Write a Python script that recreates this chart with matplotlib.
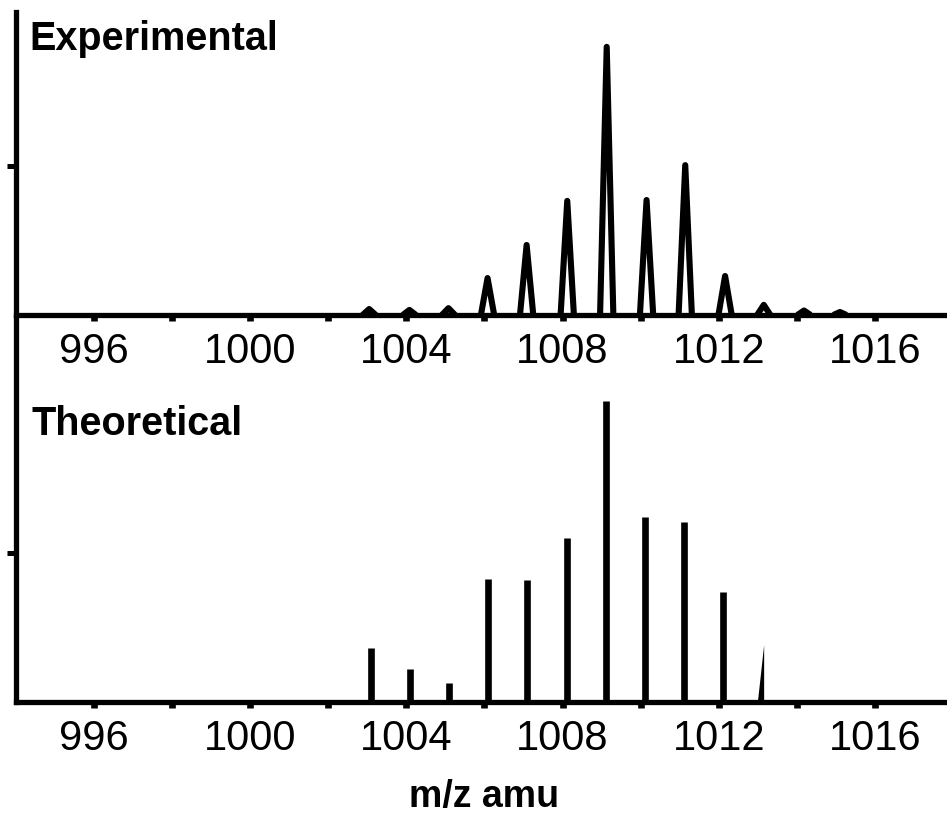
import matplotlib
matplotlib.use("Agg")
import matplotlib.pyplot as plt
import numpy as np

plt.rcParams['font.family'] = ['Liberation Sans', 'DejaVu Sans']

# ---- data ----
exp_mz = [1003.05, 1004.08, 1005.08, 1006.08, 1007.08, 1008.12, 1009.13, 1010.15, 1011.14, 1012.16, 1013.15, 1014.18, 1015.1]
exp_int = [2.0, 1.7, 2.3, 12.4, 23.5, 38.3, 90.0, 38.6, 50.3, 13.1, 3.4, 1.5, 1.0]

theo_mz = [1003.1, 1004.1, 1005.1, 1006.1, 1007.1, 1008.12, 1009.1, 1010.1, 1011.1, 1012.1, 1013.1]
theo_int = [18.0, 11.0, 6.3, 41.3, 40.9, 54.9, 101.0, 62.2, 60.5, 37.0, 19.1]

major_ticks = [996, 1000, 1004, 1008, 1012, 1016]
minor_ticks = [998, 1002, 1006, 1010, 1014]
panel_titles = ["Experimental", "Theoretical"]
xlabel = "m/z amu"

W, H = 947, 816
fig = plt.figure(figsize=(W / 100, H / 100), dpi=100)


def rect(x0, y0, x1, y1):
    return [x0 / W, 1 - y1 / H, (x1 - x0) / W, (y1 - y0) / H]


ax1 = fig.add_axes(rect(15.6, 12, 947, 315))
ax2 = fig.add_axes(rect(15.6, 318, 947, 702))
ax2.patch.set_alpha(0)

for ax, top in ((ax1, 101.7), (ax2, 128.9)):
    ax.set_xlim(994, 1017.84)
    ax.set_ylim(0, top)
    for s in ("top", "right"):
        ax.spines[s].set_visible(False)
    for s in ("left", "bottom"):
        ax.spines[s].set_linewidth(3.8)
    ax.set_xticks(major_ticks)
    ax.set_xticks(minor_ticks, minor=True)
    ax.set_xticklabels([str(t) for t in major_ticks])
    ax.set_yticks([50])
    ax.set_yticklabels([])
    ax.tick_params(axis="x", which="both", direction="out", length=4, width=4.8,
                   labelsize=30, pad=8)
    ax.tick_params(axis="y", direction="out", length=6.5, width=3.6)

# experimental profile peaks (narrow outlined triangles)
hw = 0.17
for c, h in zip(exp_mz, exp_int):
    ax1.plot([c - hw, c, c + hw], [0, h, 0], color="k", lw=4.4,
             solid_joinstyle="round", solid_capstyle="butt")

# theoretical sticks
ax2.vlines(theo_mz[:-1], 0, theo_int[:-1], color="k", lw=4.8)
c, h = theo_mz[-1], theo_int[-1]
ax2.fill([c - 0.1, c + 0.06, c + 0.06], [0, h, 0], color="k", lw=0)

fig.text(29 / W, 1 - 50 / H, panel_titles[0], fontsize=28.5, fontweight="bold",
         ha="left", va="baseline")
fig.text(32 / W, 1 - 435 / H, panel_titles[1], fontsize=28.5, fontweight="bold",
         ha="left", va="baseline")
fig.text(484 / W, 1 - 815 / H, xlabel, fontsize=27, fontweight="bold",
         ha="center", va="bottom")

fig.savefig("out.png", dpi=100)
